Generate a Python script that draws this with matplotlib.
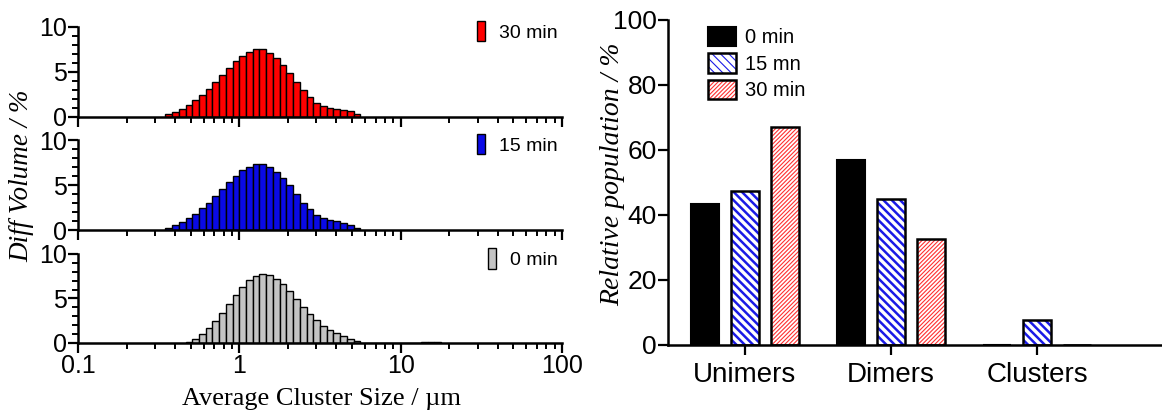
import matplotlib.pyplot as plt
import matplotlib.ticker as mticker
from matplotlib.patches import Patch
from matplotlib.legend_handler import HandlerTuple
import numpy as np

# size classes: 24 log bins per decade, k = first class index of each series
bins_per_decade = 24

k0_30 = -11
vol_30 = [0.3, 0.6, 0.9, 1.3, 1.85, 2.45, 3.15, 3.85, 4.65, 5.45, 6.2, 6.8, 7.2,
          7.5, 7.5, 7.1, 6.55, 5.8, 4.9, 3.9, 2.95, 2.2, 1.55, 1.2, 1.0, 0.9,
          0.8, 0.65, 0.3]

k0_15 = -11
vol_15 = [0.25, 0.55, 0.9, 1.3, 1.8, 2.4, 3.05, 3.75, 4.55, 5.35, 6.05, 6.65,
          7.05, 7.35, 7.35, 7.05, 6.5, 5.8, 4.95, 3.95, 3.05, 2.3, 1.65, 1.3,
          1.1, 0.95, 0.8, 0.6, 0.25]

k0_0 = -8
vol_0 = [0.15, 0.45, 1.0, 1.67, 2.5, 3.4, 4.4, 5.4, 6.3, 7.1, 7.5, 7.7, 7.65,
         7.2, 6.6, 5.8, 4.9, 4.05, 3.25, 2.6, 1.95, 1.45, 1.1, 0.8, 0.48, 0.18,
         0.0, 0.0, 0.0, 0.0, 0.0, 0.0, 0.0, 0.0, 0.0, 0.1, 0.15, 0.1]

# relative populations
categories = ['Unimers', 'Dimers', 'Clusters']
pop_0 = [43.3, 56.9, 0.0]
pop_15 = [47.5, 44.8, 7.7]
pop_30 = [67.2, 32.7, 0.0]

SANS = ['Liberation Sans', 'DejaVu Sans']
SERIF = ['Liberation Serif', 'DejaVu Serif']
plt.rcParams['font.family'] = SANS

fig = plt.figure(figsize=(11.62, 4.16), dpi=100)


def bin_edges(k0, n):
    k = np.arange(k0, k0 + n + 1)
    return 10.0 ** (k / bins_per_decade)


def style_axes(ax, lw=1.8):
    for s in ['top', 'right']:
        ax.spines[s].set_visible(False)
    for s in ['left', 'bottom']:
        ax.spines[s].set_linewidth(lw)
    ax.tick_params(which='major', direction='out', length=7, width=1.6,
                   labelsize=18, pad=1)
    ax.tick_params(which='minor', direction='out', length=4, width=1.4)


def hist_panel(rect, k0, vals, color, label, show_xlabels):
    ax = fig.add_axes(rect)
    e = bin_edges(k0, len(vals))
    ax.bar(e[:-1], vals, width=np.diff(e), align='edge', color=color,
           edgecolor='black', linewidth=1.0, label=label)
    ax.set_xscale('log')
    ax.set_xlim(0.1, 100)
    ax.set_ylim(0, 10)
    ax.set_yticks([0, 5, 10])
    ax.yaxis.set_minor_locator(mticker.MultipleLocator(1))
    ax.xaxis.set_major_locator(mticker.LogLocator(base=10))
    ax.xaxis.set_minor_locator(mticker.LogLocator(base=10, subs=np.arange(2, 10)))
    ax.xaxis.set_minor_formatter(mticker.NullFormatter())
    if show_xlabels:
        ax.xaxis.set_major_formatter(mticker.FuncFormatter(lambda v, p: '%g' % v))
    else:
        ax.xaxis.set_major_formatter(mticker.NullFormatter())
    style_axes(ax)
    ax.legend(loc='upper right', bbox_to_anchor=(1.02, 1.22), frameon=False,
              fontsize=14, handlelength=0.4, handleheight=1.25,
              handletextpad=0.75, borderpad=0.2)
    return ax


x0, w = 0.0671, 0.4165
hist_panel([x0, 0.7188, w, 0.2163], k0_30, vol_30, '#ff0000', '30 min', False)
hist_panel([x0, 0.4471, w, 0.2163], k0_15, vol_15, '#0a0ae6', '15 min', False)
hist_panel([x0, 0.1755, w, 0.2140], k0_0, vol_0, '#c4c4c4', '0 min', True)

fig.text(0.019, 0.578, 'Diff Volume / %', rotation=90, ha='center',
         va='center', fontsize=19.5, style='italic', family=SERIF)
fig.text(0.277, 0.04, 'Average Cluster Size / µm', ha='center',
         va='center', fontsize=19, family=SERIF)

# grouped bar chart
ax2 = fig.add_axes([0.5749, 0.1707, 0.4251, 0.7813])
x = np.arange(len(categories))
bw = 0.19
off = 0.272
hatch15 = '\\\\\\\\'
hatch30 = '////////'

ax2.bar(x - off, pop_0, bw, color='black', edgecolor='black', linewidth=1.5)
plt.rcParams['hatch.linewidth'] = 1.8
ax2.bar(x, pop_15, bw, color='white', edgecolor='#1a1ae6', hatch=hatch15,
        linewidth=0)
ax2.bar(x, pop_15, bw, color='none', edgecolor='black', linewidth=1.8)
plt.rcParams['hatch.linewidth'] = 0.8
ax2.bar(x + off, pop_30, bw, color='white', edgecolor='#ff3030',
        hatch=hatch30, linewidth=0)
ax2.bar(x + off, pop_30, bw, color='none', edgecolor='black', linewidth=1.8)

ax2.set_xlim(-0.527, 2.856)
ax2.set_ylim(0, 100)
ax2.set_yticks(np.arange(0, 101, 20))
ax2.set_xticks(x)
ax2.set_xticklabels(categories)
style_axes(ax2)
ax2.tick_params(axis='x', labelsize=20, pad=5)
ax2.tick_params(axis='y', labelsize=19)
fig.text(0.527, 0.58, 'Relative population / %', rotation=90, ha='center',
         va='center', fontsize=20, style='italic', family=SERIF)

# legend swatches: colored hatch with a black outline on top
plt.rcParams['hatch.linewidth'] = 1.8
h15 = (Patch(facecolor='white', edgecolor='#1a1ae6', hatch=hatch15, linewidth=0),
       Patch(facecolor='none', edgecolor='black', linewidth=1.8))
plt.rcParams['hatch.linewidth'] = 0.8
h30 = (Patch(facecolor='white', edgecolor='#ff3030', hatch=hatch30, linewidth=0),
       Patch(facecolor='none', edgecolor='black', linewidth=1.8))
h0 = Patch(facecolor='black', edgecolor='black', linewidth=1.5)
ax2.legend([h0, h15, h30], ['0 min', '15 mn', '30 min'],
           handler_map={tuple: HandlerTuple(ndivide=1, pad=0)},
           loc='upper left', bbox_to_anchor=(0.045, 1.035), frameon=False,
           fontsize=14.5, handlelength=1.35, handleheight=1.1,
           labelspacing=0.3, handletextpad=0.45)

fig.savefig('out.png', dpi=100)
